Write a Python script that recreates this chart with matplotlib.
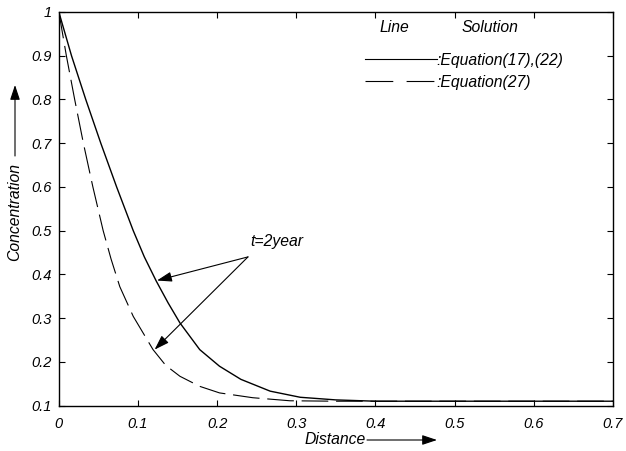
import matplotlib.pyplot as plt
from matplotlib.lines import Line2D

plt.rcParams['font.family'] = ['Liberation Sans', 'DejaVu Sans']
plt.rcParams['font.style'] = 'italic'

# concentration profiles at t = 2 year
dist_exact = [0, 0.016, 0.034, 0.053, 0.073, 0.094, 0.108, 0.123, 0.138, 0.153,
              0.178, 0.203, 0.23, 0.267, 0.305, 0.35, 0.4, 0.5, 0.6, 0.7]
conc_exact = [1.0, 0.9, 0.8, 0.7, 0.6, 0.5, 0.44, 0.385, 0.335, 0.289,
              0.228, 0.19, 0.16, 0.133, 0.119, 0.113, 0.11, 0.11, 0.11, 0.11]

dist_approx = [0, 0.0095, 0.02, 0.031, 0.043, 0.056, 0.066, 0.077, 0.094, 0.119,
               0.135, 0.153, 0.178, 0.203, 0.245, 0.292, 0.35, 0.4, 0.5, 0.6, 0.7]
conc_approx = [1.0, 0.9, 0.8, 0.7, 0.6, 0.5, 0.435, 0.372, 0.304, 0.228,
               0.192, 0.167, 0.144, 0.129, 0.118, 0.111, 0.11, 0.11, 0.11, 0.11, 0.11]

xticks = [0, 0.1, 0.2, 0.3, 0.4, 0.5, 0.6, 0.7]
xticklabels = ['0', '0.1', '0.2', '0.3', '0.4', '0.5', '0.6', '0.7']
yticks = [0.1, 0.2, 0.3, 0.4, 0.5, 0.6, 0.7, 0.8, 0.9, 1.0]
yticklabels = ['0.1', '0.2', '0.3', '0.4', '0.5', '0.6', '0.7', '0.8', '0.9', '1']

fs = 11.3

fig = plt.figure(figsize=(6.26, 4.51), dpi=100)
ax = fig.add_axes([0.094, 0.1007, 0.885, 0.8727])

ax.plot(dist_exact, conc_exact, color='black', lw=1.0)
ax.plot(dist_approx, conc_approx, color='black', lw=0.8, dashes=(24, 7))

ax.set_xlim(0, 0.7)
ax.set_ylim(0.1, 1.0)
ax.set_xticks(xticks)
ax.set_xticklabels(xticklabels, fontsize=10.5)
ax.set_yticks(yticks)
ax.set_yticklabels(yticklabels, fontsize=10.5)
ax.tick_params(direction='in', length=4, width=0.8, top=True, right=True, pad=5)
ax.tick_params(axis='x', pad=8)
for s in ax.spines.values():
    s.set_linewidth(1.0)

# legend with a small header
handles = [Line2D([], [], color='black', lw=0.8),
           Line2D([], [], color='black', lw=0.8, dashes=(25, 12))]
leg = ax.legend(handles, [':Equation(17),(22)', ':Equation(27)'],
                loc='center left', bbox_to_anchor=(0.552, 0.849), frameon=False,
                handlelength=4.6, handletextpad=0.0, labelspacing=0.45,
                fontsize=fs, borderaxespad=0, borderpad=0)
ax.text(0.578, 0.961, 'Line', transform=ax.transAxes, fontsize=fs, va='center')
ax.text(0.727, 0.961, 'Solution', transform=ax.transAxes, fontsize=fs, va='center')

# t = 2 year pointers
ax.text(0.242, 0.475, 't=2year', fontsize=fs, va='center')
arrow = dict(arrowstyle='-|>,head_length=0.9,head_width=0.3', color='black', lw=0.8,
             shrinkA=0, shrinkB=0)
ax.annotate('', xy=(0.124, 0.386), xytext=(0.239, 0.44), arrowprops=arrow)
ax.annotate('', xy=(0.121, 0.228), xytext=(0.239, 0.44), arrowprops=arrow)

# axis titles with direction arrows
fig.text(305 / 626, 1 - 440 / 451, 'Distance', fontsize=fs, va='center', ha='left')
ax.annotate('', xy=(437 / 626, 1 - 440 / 451), xytext=(367 / 626, 1 - 440 / 451),
            xycoords='figure fraction', arrowprops=arrow)
fig.text(15 / 626, 1 - 212 / 451, 'Concentration', fontsize=fs, rotation=90,
         va='center', ha='center')
ax.annotate('', xy=(15 / 626, 1 - 85 / 451), xytext=(15 / 626, 1 - 156 / 451),
            xycoords='figure fraction', arrowprops=arrow)

fig.savefig('out.png', dpi=100)
